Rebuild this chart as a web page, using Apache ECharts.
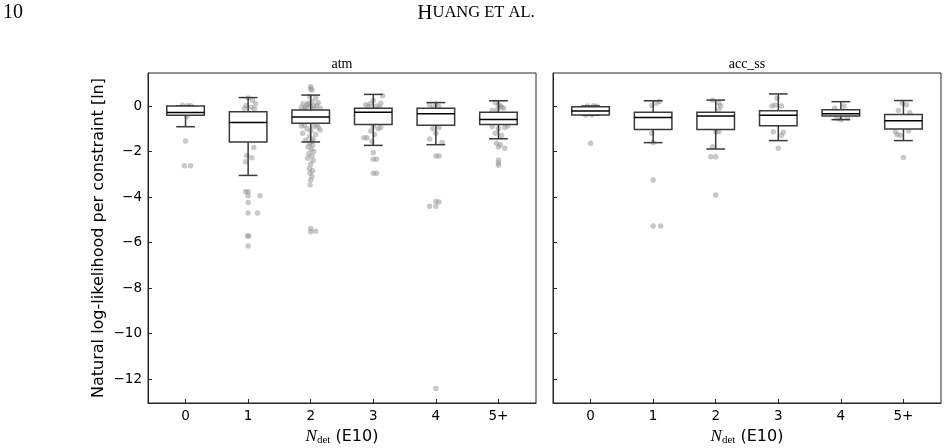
<!DOCTYPE html>
<html><head><meta charset="utf-8">
<script src="https://cdn.jsdelivr.net/npm/echarts@6/dist/echarts.min.js"></script>
<style>html,body{margin:0;padding:0;background:#fff}#c{width:948px;height:448px}</style>
</head><body><div id="c"></div>
<script>
const categories = ['0', '1', '2', '3', '4', '5+'];
const xTicks = [0, 1, 2, 3, 4, 5];
const yTicks = [-12, -10, -8, -6, -4, -2, 0];
const panelTitles = ['atm', 'acc_ss'];
const pageNumber = '10';
const runningHead = 'HUANG ET AL.';
const yName = 'Natural log-likelihood per constraint [ln]';

// [whiskerLow, Q1, median, Q3, whiskerHigh] per category
const atmBoxes = [
  [-0.91, -0.41, -0.29, 0.00, 0.00],
  [-3.05, -1.58, -0.73, -0.25, 0.37],
  [-1.58, -0.76, -0.48, -0.18, 0.48],
  [-1.73, -0.81, -0.28, -0.10, 0.51],
  [-1.70, -0.85, -0.34, -0.10, 0.15],
  [-1.44, -0.81, -0.59, -0.28, 0.23]
];
const accBoxes = [
  [-0.40, -0.40, -0.22, -0.03, 0.00],
  [-1.61, -1.03, -0.51, -0.27, 0.23],
  [-1.89, -1.03, -0.44, -0.27, 0.26],
  [-1.52, -0.87, -0.41, -0.21, 0.53],
  [-0.60, -0.44, -0.34, -0.17, 0.19],
  [-1.52, -1.01, -0.65, -0.37, 0.24]
];

// individual points: [category index, jitter, value]
const atmPoints = [
  [0,-0.05,0.03],[0,0.08,0.02],[0,0.03,0.01],[0,0.02,-0.47],[0,0.0,-1.54],[0,-0.02,-2.62],[0,0.08,-2.62],
  [1,0.0,0.35],[1,0.07,0.25],[1,-0.03,0.02],[1,0.05,-0.05],[1,0.1,-0.12],[1,-0.06,-0.1],[1,0.12,0.1],
  [1,0.09,-1.82],[1,-0.02,-2.18],[1,0.06,-2.27],[1,-0.04,-2.45],
  [1,-0.04,-3.77],[1,0.0,-3.77],[1,0.19,-3.94],[1,0.0,-3.94],[1,0.0,-4.24],[1,0.0,-4.70],[1,0.15,-4.70],
  [1,-0.01,-5.70],[1,0.01,-5.72],[1,0.0,-6.15],
  [2,0.0,0.85],[2,0.0,0.75],[2,0.02,0.70],
  [2,-0.12,0.10],[2,-0.05,0.05],[2,0.05,0.0],[2,0.1,0.02],[2,-0.08,-0.05],[2,0.15,-0.1],[2,-0.15,-0.05],
  [2,0.02,0.20],[2,0.08,0.35],[2,-0.02,0.42],[2,0.12,0.15],[2,-0.1,-0.12],[2,0.0,-0.02],[2,0.06,-0.14],[2,-0.04,0.12],
  [2,-0.1,-0.85],[2,0.05,-0.9],[2,0.12,-0.95],[2,-0.06,-1.0],[2,0.0,-1.1],[2,0.15,-1.05],[2,-0.13,-1.2],
  [2,0.08,-1.25],[2,-0.02,-1.35],[2,0.04,-1.45],[2,-0.08,-1.5],[2,0.1,-0.82],[2,-0.15,-0.88],[2,0.02,-1.55],
  [2,-0.02,-1.65],[2,0.03,-1.72],[2,-0.04,-1.8],[2,0.01,-1.9],[2,0.05,-2.0],[2,-0.03,-2.1],[2,0.02,-2.2],
  [2,-0.05,-2.3],[2,0.04,-2.4],[2,0.0,-2.55],[2,-0.02,-2.75],[2,0.03,-2.85],[2,-0.01,-2.95],[2,0.02,-3.1],
  [2,0.0,-3.25],[2,-0.01,-3.47],[2,0.0,-5.38],[2,0.08,-5.5],[2,0.0,-5.52],
  [3,-0.12,0.05],[3,-0.05,0.1],[3,0.05,0.0],[3,0.15,0.45],[3,0.1,-0.05],[3,0.0,0.25],[3,-0.08,-0.02],[3,0.12,0.12],
  [3,-0.15,-1.39],[3,-0.1,-1.39],[3,0.0,-0.9],[3,0.08,-1.0],[3,-0.04,-1.1],[3,0.02,-1.25],[3,0.12,-0.95],[3,-0.02,-1.55],
  [3,0.0,-2.05],[3,0.0,-2.34],[3,0.05,-2.34],[3,0.0,-2.96],[3,0.05,-2.96],
  [4,-0.1,0.05],[4,0.0,0.1],[4,0.05,-0.02],[4,-0.05,-0.08],
  [4,-0.05,-1.0],[4,0.0,-1.2],[4,-0.1,-1.45],[4,0.1,-1.6],[4,0.05,-0.95],
  [4,0.0,-2.2],[4,0.05,-2.2],[4,-0.1,-4.4],[4,0.0,-4.2],[4,0.05,-4.22],[4,0.0,-4.4],[4,0.0,-12.41],
  [5,-0.05,0.15],[5,0.0,0.05],[5,0.05,-0.05],[5,-0.02,-0.15],[5,0.08,-0.1],[5,-0.1,-0.2],[5,0.03,0.0],
  [5,-0.1,-0.9],[5,0.0,-1.0],[5,0.1,-0.95],[5,-0.05,-1.2],[5,0.05,-1.3],[5,0.15,-0.88],
  [5,-0.03,-1.64],[5,0.03,-1.7],[5,0.0,-1.8],[5,0.1,-1.86],[5,0.0,-2.37],[5,0.0,-2.5],[5,0.0,-2.6]
];
const accPoints = [
  [0,-0.05,0.0],[0,0.05,0.01],[0,0.1,-0.01],[0,-0.08,-0.4],[0,0.02,-0.4],[0,0.0,-1.64],
  [1,0.05,0.12],[1,0.1,0.2],[1,-0.02,0.02],[1,-0.02,-1.2],[1,0.0,-1.6],[1,0.0,-3.25],[1,0.0,-5.27],[1,0.12,-5.27],
  [2,0.05,0.12],[2,0.08,0.0],[2,-0.05,0.25],[2,0.05,-0.15],[2,0.0,-1.13],[2,0.05,-1.13],[2,-0.05,-1.79],
  [2,0.0,-2.23],[2,-0.08,-2.23],[2,0.0,-3.91],
  [3,-0.02,0.34],[3,-0.05,0.04],[3,0.05,0.0],[3,-0.1,0.0],[3,-0.08,-1.13],[3,0.08,-1.15],[3,0.0,-0.8],[3,0.05,-1.3],[3,0.0,-1.86],
  [4,-0.1,-0.1],[4,0.05,0.0],[4,-0.06,-0.54],[4,0.1,-0.52],[4,0.0,-0.6],
  [5,-0.02,0.12],[5,0.05,0.05],[5,-0.08,-0.2],[5,0.1,-0.3],[5,-0.13,-1.13],[5,-0.05,-1.28],[5,0.08,-1.1],[5,-0.1,-1.25],[5,0.0,-2.26]
];

const chart = echarts.init(document.getElementById('c'), null, {renderer: 'canvas'});
const frameColor = '#262626';
const boxColor = '#3a3a3a';
const sans = 'DejaVu Sans';
const serif = 'Liberation Serif';

function renderBox(params, api) {
  const x = api.value(0);
  const pLo = api.coord([x, api.value(1)]);
  const pQ1 = api.coord([x, api.value(2)]);
  const pMed = api.coord([x, api.value(3)]);
  const pQ3 = api.coord([x, api.value(4)]);
  const pHi = api.coord([x, api.value(5)]);
  const w = api.size([0.6, 0])[0];
  const cw = w / 2;
  const cx = pLo[0];
  const edge = {stroke: boxColor, lineWidth: 1.5, fill: null};
  return {type: 'group', children: [
    {type: 'line', shape: {x1: cx, y1: pQ1[1], x2: cx, y2: pLo[1]}, style: edge},
    {type: 'line', shape: {x1: cx, y1: pQ3[1], x2: cx, y2: pHi[1]}, style: edge},
    {type: 'line', shape: {x1: cx - cw / 2, y1: pLo[1], x2: cx + cw / 2, y2: pLo[1]}, style: edge},
    {type: 'line', shape: {x1: cx - cw / 2, y1: pHi[1], x2: cx + cw / 2, y2: pHi[1]}, style: edge},
    {type: 'rect', shape: {x: cx - w / 2, y: pQ3[1], width: w, height: pQ1[1] - pQ3[1]},
     style: {fill: '#ffffff', stroke: boxColor, lineWidth: 1.5}},
    {type: 'line', shape: {x1: cx - w / 2, y1: pMed[1], x2: cx + w / 2, y2: pMed[1]},
     style: {stroke: '#000', lineWidth: 1.5}}
  ]};
}

const grids = [
  {left: 148, right: 412, top: 73, bottom: 45, containLabel: false, outerBoundsMode: 'none',
   show: true, borderColor: frameColor, borderWidth: 1, backgroundColor: 'transparent'},
  {left: 553, right: 7, top: 73, bottom: 45, containLabel: false, outerBoundsMode: 'none',
   show: true, borderColor: frameColor, borderWidth: 1, backgroundColor: 'transparent'}
];

function makeX(i) {
  return {
    type: 'value', gridIndex: i, min: -0.6, max: 5.6,
    axisLine: {show: true, onZero: false, lineStyle: {color: frameColor, width: 1}},
    axisTick: {show: true, inside: true, length: 4, customValues: xTicks, lineStyle: {color: frameColor}},
    axisLabel: {customValues: xTicks, formatter: v => categories[Math.round(v)],
      fontFamily: sans, fontSize: 13.5, color: '#000', margin: 6},
    splitLine: {show: false},
    name: '{i|N}{s|det}{t| (E10)}',
    nameLocation: 'middle', nameGap: 21,
    nameTextStyle: {rich: {
      i: {fontFamily: serif, fontStyle: 'italic', fontSize: 17, color: '#000'},
      s: {fontFamily: serif, fontSize: 11, color: '#000', padding: [8, 0, 0, 0]},
      t: {fontFamily: sans, fontSize: 16, color: '#000'}
    }}
  };
}
function makeY(i) {
  return {
    type: 'value', gridIndex: i, min: -13.05, max: 1.45,
    axisLine: {show: true, onZero: false, lineStyle: {color: frameColor, width: 1}},
    axisTick: {show: true, inside: true, length: 4, customValues: yTicks, lineStyle: {color: frameColor}},
    axisLabel: {show: i === 0, customValues: yTicks,
      formatter: v => (v < 0 ? '\u2212' + Math.abs(v) : String(v)),
      fontFamily: sans, fontSize: 13.5, color: '#000', margin: 6},
    splitLine: {show: false},
    name: i === 0 ? yName : '',
    nameLocation: 'middle', nameGap: 41, nameRotate: 90,
    nameTextStyle: {fontFamily: sans, fontSize: 16, color: '#000'}
  };
}

const pointStyle = {color: 'rgba(140,140,140,0.6)'};

const series = [];
[[atmPoints, atmBoxes], [accPoints, accBoxes]].forEach(([pts, boxes], i) => {
  series.push({
    type: 'scatter', xAxisIndex: i, yAxisIndex: i, z: 1,
    symbolSize: 5.5, itemStyle: pointStyle, silent: true,
    data: pts.map(p => [p[0] + p[1], p[2]])
  });
  series.push({
    type: 'custom', xAxisIndex: i, yAxisIndex: i, z: 3,
    renderItem: renderBox, silent: true,
    encode: {x: 0, y: [1, 2, 3, 4, 5]},
    data: boxes.map((b, k) => [xTicks[k]].concat(b))
  });
});

chart.setOption({
  animation: false,
  backgroundColor: '#fff',
  grid: grids,
  xAxis: [makeX(0), makeX(1)],
  yAxis: [makeY(0), makeY(1)],
  series: series,
  graphic: [
    {type: 'text', x: 3, y: 13, style: {text: pageNumber, font: '20px "Liberation Serif"', fill: '#000', verticalAlign: 'middle'}},
    {type: 'text', x: 476, y: 13, style: {
      text: '{a|' + runningHead.charAt(0) + '}{b|' + runningHead.slice(1) + '}',
      rich: {a: {fontFamily: serif, fontSize: 21, color: '#000'}, b: {fontFamily: serif, fontSize: 16.5, color: '#000'}},
      align: 'center', verticalAlign: 'middle'}},
    {type: 'text', x: 342, y: 64, style: {text: panelTitles[0], font: '14px "Liberation Serif"', fill: '#000', align: 'center', verticalAlign: 'middle'}},
    {type: 'text', x: 747, y: 64, style: {text: panelTitles[1], font: '14px "Liberation Serif"', fill: '#000', align: 'center', verticalAlign: 'middle'}}
  ]
});
</script>
</body></html>
